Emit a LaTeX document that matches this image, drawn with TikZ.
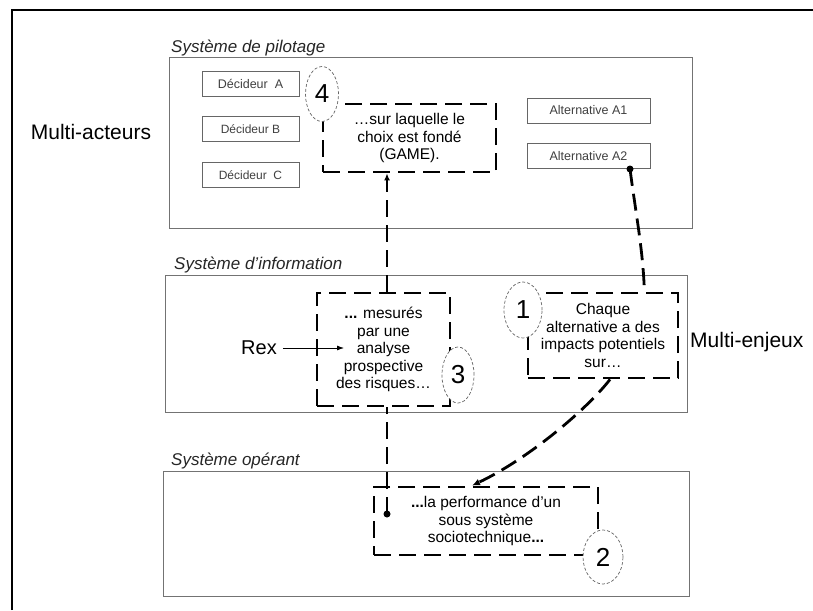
\documentclass[tikz,border=0pt]{standalone}
\usepackage{fontspec}
\setmainfont{Liberation Sans}
\usetikzlibrary{arrows.meta,shapes.geometric,calc}

\begin{document}
\begin{tikzpicture}[x=1pt,y=-1pt,
  sysbox/.style={draw=black!55, line width=1pt},
  syslabel/.style={font=\fontsize{17}{20}\selectfont\itshape, text=black!85, anchor=south west, inner sep=1pt},
  actor/.style={draw=black!60, line width=0.9pt, minimum width=97pt, minimum height=25pt, inner sep=0pt, font=\fontsize{12.5}{14}\selectfont, text=black!75},
  choice/.style={actor, minimum width=123pt},
  stepnote/.style={draw, line width=2.8pt, dash pattern=on 17pt off 8pt, fill=white, inner sep=0pt, align=center, font=\fontsize{15.5}{17.5}\selectfont},
  numtag/.style={ellipse, draw=black!60, line width=0.7pt, dash pattern=on 3pt off 2pt, fill=white, inner sep=0pt, minimum width=35pt, minimum height=55pt, font=\fontsize{26}{26}\selectfont},
  link/.style={line width=2.8pt, dash pattern=on 17pt off 8pt},
  bigword/.style={font=\fontsize{21}{24}\selectfont, inner sep=0pt},
]
\useasboundingbox (0,0) rectangle (813,610);
\fill[white] (0,0) rectangle (813,610);

% outer frame
\draw[line width=2.5pt] (12,610) -- (12,10) -- (813,10);

% the three systems
\draw[sysbox] (169,58) rectangle (692,228);
\node[syslabel] (lpil) at (170,57) {Système de pilotage};
\draw[sysbox] (165,275) rectangle (687,412);
\node[syslabel] (linf) at (173,274) {Système d’information};
\draw[sysbox] (163,471) rectangle (689,596);
\node[syslabel] (lope) at (170,470) {Système opérant};

% side labels
\node[bigword] (acteurs) at (91,132) {Multi-acteurs};
\node[bigword, anchor=west] (enjeux) at (690,342) {Multi-enjeux};

% decision makers and alternatives
\node[actor] (decA) at (250.5,83.5) {Décideur~~A};
\node[actor, font=\fontsize{12}{14}\selectfont] (decB) at (250.5,129) {Décideur B};
\node[actor, font=\fontsize{12}{14}\selectfont] (decC) at (250.5,175) {Décideur~~C};
\node[choice] (altA) at (588.5,110.5) {Alternative A1};
\node[choice] (altB) at (588.5,156) {Alternative A2};

% numbered steps
\node[stepnote, minimum width=173pt, minimum height=68pt] (s4) at (409.5,138) {…sur laquelle le\\choix est fondé\\(GAME).};
\node[stepnote, minimum width=133pt, minimum height=113pt] (s3) at (383.5,349.5) {\textbf{...} mesurés\\par une\\analyse\\prospective\\des risques…};
\node[stepnote, minimum width=150pt, minimum height=85pt] (s1) at (603,335.5) {Chaque\\alternative a des\\impacts potentiels\\sur…};
\node[stepnote, minimum width=224pt, minimum height=68pt] (s2) at (486,521) {\textbf{...}la performance d’un\\sous système\\sociotechnique\textbf{...}};

\node[numtag, minimum width=33pt, minimum height=55pt] (n4) at (322,94) {4};
\node[numtag, minimum width=32pt, minimum height=56pt] (n3) at (458,375) {3};
\node[numtag, minimum width=38pt, minimum height=56pt] (n1) at (523,310) {1};
\node[numtag, minimum width=40pt, minimum height=54pt] (n2) at (603,557) {2};

% feedback input
\node[font=\fontsize{20}{22}\selectfont, inner sep=0pt] (rex) at (259,348) {Rex};
\coordinate (rexin) at (344,348);
\draw[line width=0.8pt, -{Latex[length=7pt,width=5pt]}] (rex.east) ++(6,0) -- (rexin);

% connectors
\coordinate (dotA) at (630,169);
\coordinate (dotB) at (387,514);
\fill (dotA) circle (3.5pt);
\fill (dotB) circle (3.5pt);
\draw[link] (dotA) .. controls (636,215) and (643,250) .. ($(s1.north east)+(-35,0)$);
\draw[link, -{Latex[length=8pt,width=7pt]}] ($(s1.south)+(7,0)$) .. controls (588,408) and (530,458) .. ($(s2.north)+(-14,0)$);
\draw[link] (dotB) -- (s3.south -| dotB);
\draw[link, -{Latex[length=7pt,width=6pt]}] (s3.north -| dotB) -- (s4.south -| dotB);
\end{tikzpicture}
\end{document}
